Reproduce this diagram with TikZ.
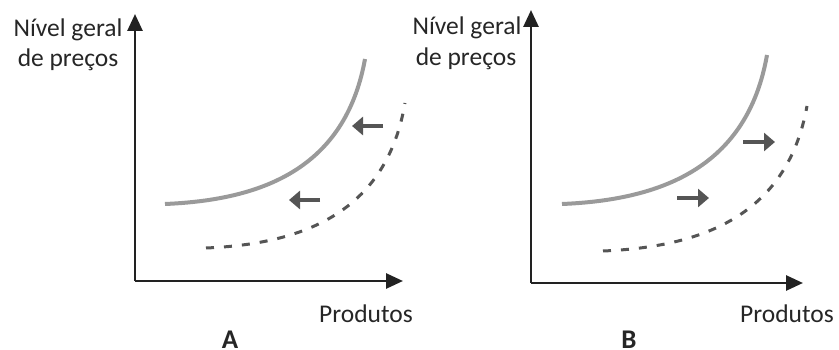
\documentclass[tikz,border=0pt]{standalone}
\usepackage{fontspec}
\setmainfont{Carlito}
\usetikzlibrary{arrows.meta}
\definecolor{axiscol}{HTML}{222222}
\definecolor{solidcol}{HTML}{9A9A9A}
\definecolor{dashcol}{HTML}{555555}
\definecolor{txtcol}{HTML}{262626}
\tikzset{
  axis/.style={draw=axiscol, line width=2.8pt, -{Triangle[length=17pt,width=15pt]}},
  solidcurve/.style={draw=solidcol, line width=4pt},
  dashcurve/.style={draw=dashcol, line width=3pt, dash pattern=on 8pt off 10pt},
  shiftarrow/.style={draw=dashcol, line width=4.3pt, -{Triangle[length=11pt,width=18pt]}},
  lbl/.style={text=txtcol, font=\fontsize{25.5}{30}\selectfont, inner sep=0pt, anchor=base},
  panellbl/.style={text=txtcol, font=\fontsize{27}{30}\selectfont\bfseries, inner sep=0pt, anchor=base}
}
\begin{document}
\begin{tikzpicture}[x=1pt,y=-1pt]
\useasboundingbox (0,0) rectangle (839,350);
% ---------- Panel A ----------
\coordinate (oA) at (135,281);
\coordinate (yA) at (135,14);
\coordinate (xA) at (403,281);
\draw[axis] (oA) -- (yA);
\draw[axis] (oA) -- (xA);
\coordinate (sA0) at (165,204);
\coordinate (sA1) at (365,59);
\draw[solidcurve] (sA0) .. controls (260,200) and (345,170) .. (sA1);
\coordinate (dA0) at (206,248);
\coordinate (dA1) at (405,103);
\draw[dashcurve] (dA0) .. controls (301,244) and (386,214) .. (dA1);
\coordinate (aA1s) at (383,126);
\coordinate (aA1e) at (352,126);
\draw[shiftarrow] (aA1s) -- (aA1e);
\coordinate (aA2s) at (320,200);
\coordinate (aA2e) at (289,200);
\draw[shiftarrow] (aA2s) -- (aA2e);
\node[lbl] (nA1) at (68,37) {Nível geral};
\node[lbl] (nA2) at (68,67) {de preços};
\node[lbl] (pA) at (366,323) {Produtos};
\node[panellbl] (A) at (230,348) {A};
% ---------- Panel B ----------
\coordinate (oB) at (531,283);
\coordinate (yB) at (531,10);
\coordinate (xB) at (803,283);
\draw[axis] (oB) -- (yB);
\draw[axis] (oB) -- (xB);
\coordinate (sB0) at (562,204);
\coordinate (sB1) at (767,55);
\draw[solidcurve] (sB0) .. controls (659,200) and (747,169) .. (sB1);
\coordinate (dB0) at (603,251);
\coordinate (dB1) at (807,106);
\draw[dashcurve] (dB0) .. controls (700,247) and (787,217) .. (dB1);
\coordinate (aB1s) at (743,142);
\coordinate (aB1e) at (775,142);
\draw[shiftarrow] (aB1s) -- (aB1e);
\coordinate (aB2s) at (677,198);
\coordinate (aB2e) at (709,198);
\draw[shiftarrow] (aB2s) -- (aB2e);
\node[lbl] (nB1) at (467,35) {Nível geral};
\node[lbl] (nB2) at (466,66) {de preços};
\node[lbl] (pB) at (787,322) {Produtos};
\node[panellbl] (B) at (629,348) {B};
\end{tikzpicture}
\end{document}
